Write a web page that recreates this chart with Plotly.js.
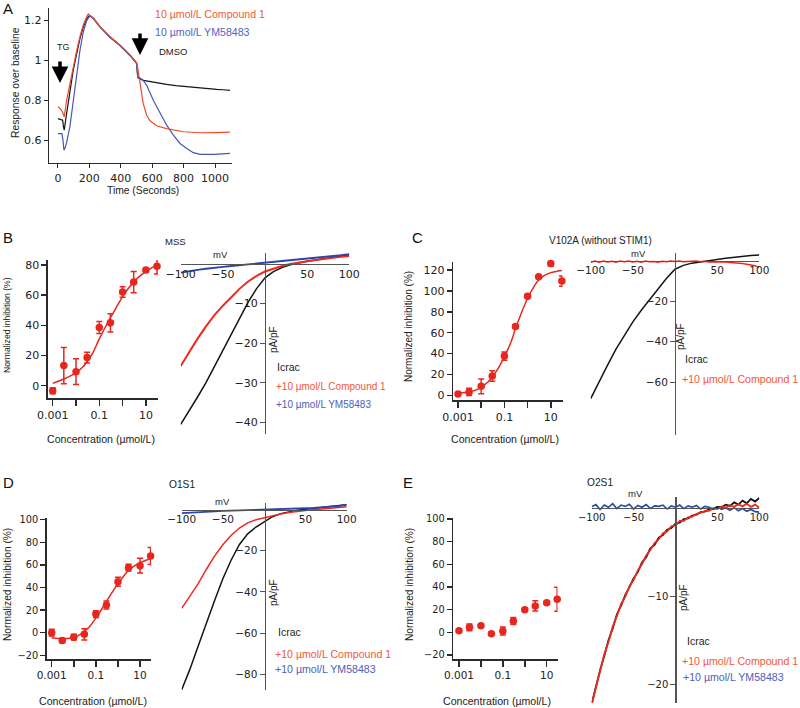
<!DOCTYPE html>
<html><head><meta charset="utf-8">
<script src="https://cdn.plot.ly/plotly-3.0.1.min.js"></script>
<style>html,body{margin:0;padding:0;background:#fff}#chart{width:800px;height:708px}</style>
</head><body><div id="chart"></div>
<script>
// ---------- Panel A data ----------
const timeCompound1 = [0,15,30,40,55,76,97,119,140,161,183,193,225,268,331,395,459,501,505,522,543,565,586,628,692,798,904,1000,1095];
const respCompound1 = [0.767,0.758,0.74,0.717,0.80,0.883,0.975,1.05,1.12,1.178,1.22,1.234,1.212,1.17,1.12,1.078,1.028,0.99,0.975,0.883,0.783,0.725,0.697,0.672,0.658,0.642,0.637,0.638,0.64];
const timeYM = [0,25,32,38,45,55,76,97,119,140,161,183,204,225,268,331,395,459,501,508,543,565,607,650,692,735,777,820,862,904,989,1095];
const respYM = [0.633,0.633,0.60,0.55,0.56,0.587,0.667,0.80,0.933,1.05,1.142,1.20,1.225,1.215,1.17,1.115,1.075,1.025,0.985,0.913,0.90,0.875,0.80,0.733,0.675,0.625,0.583,0.558,0.537,0.528,0.528,0.533];
const timeDMSO = [0,30,35,40,55,76,97,119,140,161,183,200,225,268,331,395,459,501,508,543,575,607,650,692,750,798,850,904,950,1010,1050,1095];
const respDMSO = [0.708,0.70,0.667,0.65,0.733,0.85,0.95,1.033,1.11,1.167,1.21,1.226,1.21,1.168,1.118,1.075,1.025,0.985,0.918,0.90,0.895,0.892,0.886,0.88,0.874,0.87,0.866,0.862,0.857,0.855,0.853,0.85];
const timeTicks = [0,200,400,600,800,1000];
const respTicks = [0.6,0.8,1,1.2];
const respTickText = ['0.6','0.8','1','1.2'];

// ---------- Dose-response data ----------
const conc = [0.001,0.003,0.01,0.03,0.1,0.3,1,3,10,30];
const fitConc = [0.001,0.002,0.003,0.005,0.01,0.02,0.03,0.05,0.1,0.2,0.3,0.5,1,2,3,5,10,20,30];
const inhibB = [-3.3,13.3,9.3,18.6,38.5,41.6,62,68.6,76.5,79];
const errB   = [2,12,8.5,3.5,4,6,3.5,7,1,5];
const fitB   = [1.5,3.3,4.5,6,8.5,12.5,16,21,31,40,45,51,59,65.5,68.5,72,75.5,78.5,80];
const inhibC = [1.3,3.2,8.6,18.5,37.6,66,95,113.6,126.3,109.4];
const errC   = [1.5,3.5,7,5,4,1.5,1.5,1,2.5,5];
const fitC   = [2,2.7,3.3,4.5,7.8,13,17.5,24.5,37,52,64,77,93,105,110.5,114.5,117.5,119,119.5];
const inhibD = [0,-7,-4,-1.5,16.5,24.5,45,57.5,59.3,67.8];
const errD   = [3,2,2.5,5,3,3.5,4,3,6.5,7.5];
const fitD   = [-4.5,-5.2,-5.4,-5.2,-4.2,-1.5,1,5,13,22,27.5,34.5,43.5,51,55,58.5,62,64.3,65.3];
const inhibE = [1.5,4.4,5.9,-1.2,1.2,10,20,23.3,26,29.2];
const errE   = [1,3,1,1,3.5,3,1,4.5,1,10.5];
const decadeTicks = [0.001,0.01,0.1,1,10];
const decadeText = ['0.001','','0.1','','10'];

// ---------- I-V data ----------
const mv21 = [-100,-90,-80,-70,-60,-50,-40,-30,-20,-10,0,10,20,30,40,50,60,70,80,90,100];
const mv41 = [-100,-95,-90,-85,-80,-75,-70,-65,-60,-55,-50,-45,-40,-35,-30,-25,-20,-15,-10,-5,0,5,10,15,20,25,30,35,40,45,50,55,60,65,70,75,80,85,90,95,100];
const ivB_ctrl = [-40.5,-37.2,-33.6,-30,-25.9,-21.7,-17.6,-13.6,-9.7,-6.3,-3.6,-2.0,-1.0,-0.3,0.2,0.6,0.9,1.2,1.5,1.8,2.2];
const ivB_cpd  = [-25.8,-22.3,-18.9,-15.8,-13,-10.6,-8.4,-6.3,-4.5,-3.1,-2.0,-1.2,-0.6,-0.1,0.3,0.6,0.9,1.2,1.5,1.7,1.9];
const ivB_ym   = [-2.3,-1.9,-1.6,-1.3,-1.0,-0.8,-0.6,-0.4,-0.2,0,0.2,0.4,0.6,0.8,1.0,1.2,1.4,1.7,1.9,2.1,2.4];
const ivC_ctrl = [-68,-59.5,-51.5,-43.7,-36.7,-30.2,-24.5,-19.2,-14,-8.8,-4.3,-2.4,-1.3,-0.6,0,0.5,1.1,1.6,2.0,2.5,2.7];
const ivC_cpd  = [-0.9,-0.3,-0.8,-0.2,-0.7,-0.4,-0.9,-0.3,-0.6,-0.2,-0.7,-0.4,-0.8,-0.3,-0.6,-0.5,-0.9,-0.4,-0.6,-0.3,-0.5,-0.2,-0.6,-0.4,-0.5,-0.3,-0.6,-0.4,-0.7,-0.5,-0.6,-0.8,-0.7,-1.0,-1.1,-1.3,-1.5,-1.8,-2.1,-2.6,-3.5];
const ivD_ctrl = [-87.5,-77.5,-66.3,-55,-44,-33.5,-24.5,-17,-11.8,-8.5,-6,-3.5,-2,-1,-0.3,0.1,0.5,0.9,1.3,1.8,2.3];
const ivD_cpd  = [-48,-42,-36,-29,-22.5,-17,-12.5,-9,-6.5,-5,-4,-3,-2.2,-1.5,-0.9,-0.4,0,0.3,0.6,0.9,1.3];
const ivD_ym   = [-1.8,-1.5,-1.2,-1.0,-0.9,-0.7,-0.6,-0.5,-0.4,-0.3,-0.2,-0.05,0.1,0.25,0.4,0.6,0.8,1.0,1.3,1.7,2.4];
const ivE_ctrl = [-22.2,-20.2,-18.4,-16.8,-15.0,-13.7,-12.1,-11.1,-9.9,-9.0,-8.0,-7.3,-6.2,-5.6,-4.6,-4.2,-3.4,-3.1,-2.5,-2.3,-1.8,-1.7,-1.3,-1.2,-0.9,-0.8,-0.5,-0.45,-0.2,-0.15,0.1,0.05,0.35,0.2,0.6,0.35,0.8,0.5,1.0,0.7,1.1];
const ivE_cpd  = [-22.3,-20.3,-18.6,-16.6,-15.2,-13.5,-12.3,-10.9,-10.1,-8.9,-8.2,-7.1,-6.4,-5.4,-4.8,-4.0,-3.6,-2.9,-2.7,-2.1,-2.0,-1.5,-1.5,-1.1,-1.0,-0.7,-0.6,-0.35,-0.35,-0.05,-0.15,0.15,0.0,0.3,0.1,0.4,0.15,0.45,0.1,0.35,0.0];
const ivE_ym   = [0.1,0.35,-0.2,0.3,0.05,0.45,-0.1,0.3,0.15,0.4,-0.15,0.25,0.05,0.35,-0.1,0.2,0.15,0.3,-0.15,0.2,0.05,0.3,-0.1,0.2,0.05,0.25,-0.15,0.15,0.05,-0.15,0.1,-0.2,0.0,-0.3,0.0,-0.35,-0.1,-0.4,-0.2,-0.45,-0.5];
const ivTicks = [-100,-50,50,100];

// ---------- helpers ----------
const W = 800, H = 708;
const px = x => x / W, py = y => 1 - y / H;
const FT = 'DejaVu Sans, Verdana, sans-serif';
const FL = 'Liberation Sans, Arial, sans-serif';
const RED = '#e8261d', IVRED = '#f0291e', IVBLUE = '#2b46aa', BLK = '#151515';
const LRED = '#f2573a', LBLUE = '#4f5eb8';
const AX = '#2a2a2a';

const traces = [];
const layout = {
  width: W, height: H, margin: {l:0, r:0, t:0, b:0},
  paper_bgcolor: '#fff', plot_bgcolor: 'rgba(0,0,0,0)',
  showlegend: false, annotations: []
};

function ann(text, x, y, o) {
  layout.annotations.push(Object.assign({
    text: text, x: px(x), y: py(y), xref: 'paper', yref: 'paper', showarrow: false,
    xanchor: 'center', yanchor: 'middle', font: {family: FL, size: 10, color: '#222'}
  }, o || {}));
}
const F = (s, c) => ({family: FL, size: s, color: c || '#222'});

// ---------- Panel A ----------
layout.xaxis = {domain: [px(49), px(232)], range: [-57, 1108], anchor: 'y', showline: true, linecolor: AX, linewidth: 1.3,
  ticks: 'outside', ticklen: 4, tickcolor: AX, tickvals: timeTicks, showgrid: false, zeroline: false,
  tickfont: {family: FT, size: 11, color: '#222'}};
layout.yaxis = {domain: [py(163), py(8)], range: [0.485, 1.2635], anchor: 'x', showline: true, linecolor: AX, linewidth: 1.3,
  ticks: 'outside', ticklen: 4, tickcolor: AX, tickvals: respTicks, ticktext: respTickText, showgrid: false, zeroline: false,
  tickfont: {family: FT, size: 11, color: '#222'}};
traces.push({x: timeDMSO, y: respDMSO, xaxis: 'x', yaxis: 'y', mode: 'lines', line: {color: BLK, width: 1.2}});
traces.push({x: timeYM, y: respYM, xaxis: 'x', yaxis: 'y', mode: 'lines', line: {color: '#4656b8', width: 1.2}});
traces.push({x: timeCompound1, y: respCompound1, xaxis: 'x', yaxis: 'y', mode: 'lines', line: {color: '#f04a2e', width: 1.2}});
ann('Response over baseline', 15, 83, {textangle: -90, font: F(10.3)});
ann('Time (Seconds)', 143, 190, {font: F(10.3)});
ann('10 µmol/L Compound 1', 153, 14, {xanchor: 'left', font: F(10.6, '#f05a3c')});
ann('10 µmol/L YM58483', 153, 32, {xanchor: 'left', font: F(10.6, '#5563c0')});
ann('DMSO', 157, 52, {xanchor: 'left', font: F(9.5)});
ann('TG', 55, 47, {xanchor: 'left', font: F(9)});
[[60, 83], [140, 55]].forEach(function (p) {
  layout.annotations.push({text: '', x: px(p[0]), y: py(p[1]), xref: 'paper', yref: 'paper', showarrow: true,
    ax: 0, ay: -23, arrowhead: 2, arrowwidth: 3.5, arrowsize: 0.95, arrowcolor: '#000'});
});

// ---------- dose-response axes ----------
function doseAxes(n, xl, xr, xrange, ytop, ybot, yrange, yticks, xfs, yfs) {
  layout['xaxis' + n] = {domain: [px(xl), px(xr)], range: xrange, type: 'log', anchor: 'y' + n,
    showline: true, linecolor: AX, linewidth: 1.6, ticks: 'outside', ticklen: 6, tickwidth: 1.5, tickcolor: AX,
    tickvals: decadeTicks, ticktext: decadeText, showgrid: false, zeroline: false,
    tickfont: {family: FT, size: xfs, color: '#222'}};
  layout['yaxis' + n] = {domain: [py(ybot), py(ytop)], range: yrange, anchor: 'x' + n,
    showline: true, linecolor: AX, linewidth: 1.6, ticks: 'outside', ticklen: 5, tickwidth: 1.5, tickcolor: AX,
    tickvals: yticks, showgrid: false, zeroline: false,
    tickfont: {family: FT, size: yfs, color: '#222'}};
}
function doseTraces(n, vals, errs, fit) {
  if (fit) traces.push({x: fitConc, y: fit, xaxis: 'x' + n, yaxis: 'y' + n, mode: 'lines', line: {color: RED, width: 1.5, shape: 'spline'}});
  traces.push({x: conc, y: vals, xaxis: 'x' + n, yaxis: 'y' + n, mode: 'markers', cliponaxis: false,
    marker: {color: RED, size: 7.5},
    error_y: {type: 'data', array: errs, visible: true, color: RED, thickness: 1.5, width: 3}});
}
// B
doseAxes(2, 48, 158, [-3.2017, 1.52], 260, 398, [-8.15, 83.2], [0,20,40,60,80], 11, 11);
doseTraces(2, inhibB, errB, fitB);
ann('Normalized inhibition (%)', 7, 325, {textangle: -90, font: F(8.6)});
ann('Concentration (µmol/L)', 101, 439, {font: F(10.6)});
// C
doseAxes(4, 453.3, 562.5, [-3.203, 1.505], 261.7, 400, [-4.5, 128], [0,20,40,60,80,100,120], 11, 11);
doseTraces(4, inhibC, errC, fitC);
ann('Normalized inhibition (%)', 408, 327, {textangle: -90, font: F(10)});
ann('Concentration (µmol/L)', 505, 439, {font: F(10.6)});
// D
doseAxes(6, 46.7, 151, [-3.226, 1.495], 518.3, 659, [-23.3, 101.2], [-20,0,20,40,60,80,100], 10.5, 9.8);
doseTraces(6, inhibD, errD, fitD);
ann('Normalized inhibition (%)', 7, 585, {textangle: -90, font: F(10.2)});
ann('Concentration (µmol/L)', 93, 701, {font: F(10.6)});
// E
doseAxes(8, 453.3, 557.5, [-3.259, 1.4909], 518, 659, [-23.5, 100.8], [-20,0,20,40,60,80,100], 10.5, 9.8);
doseTraces(8, inhibE, errE, null);
ann('Normalized inhibition (%)', 409, 585, {textangle: -90, font: F(10.2)});
ann('Concentration (µmol/L)', 497, 701, {font: F(10.6)});

// ---------- I-V axes ----------
function ivAxes(n, xl, xr, zeroX, zeroY, ytop, ybot, pxPerUnit, yticks, fs) {
  layout['xaxis' + n] = {domain: [px(xl), px(xr)], range: [-100, 100], anchor: 'free', position: py(zeroY),
    showline: true, linecolor: '#555', linewidth: 1.3, ticks: '', tickvals: ivTicks, showgrid: false, zeroline: false,
    tickfont: {family: FT, size: fs, color: '#222'}};
  layout['yaxis' + n] = {domain: [py(ybot), py(ytop)], range: [-(ybot - zeroY) / pxPerUnit, (zeroY - ytop) / pxPerUnit],
    anchor: 'free', position: px(zeroX), showline: true, linecolor: '#555', linewidth: 1.3,
    ticks: 'outside', ticklen: 5, tickcolor: '#555', tickvals: yticks, showgrid: false, zeroline: false,
    tickfont: {family: FT, size: fs, color: '#222'}};
}
function ivLine(n, xs, ys, color, w) {
  traces.push({x: xs, y: ys, xaxis: 'x' + n, yaxis: 'y' + n, mode: 'lines', line: {color: color, width: w || 1.5}});
}
// B I-V
ivAxes(3, 180.7, 349.3, 265, 263.6, 253, 434, 3.97, [-10,-20,-30,-40], 11);
ivLine(3, mv21, ivB_ctrl, BLK);
ivLine(3, mv21, ivB_cpd, IVRED, 2);
ivLine(3, mv21, ivB_ym, IVBLUE, 1.8);
ann('MSS', 163, 241, {xanchor: 'left', font: F(9.5)});
ann('mV', 220, 255, {font: F(9.5)});
ann('pA/pF', 273, 340, {textangle: -90, font: F(10)});
ann('Icrac', 275, 367, {xanchor: 'left', font: F(10.5)});
ann('+10 µmol/L Compound 1', 274, 386, {xanchor: 'left', font: F(10, LRED)});
ann('+10 µmol/L YM58483', 274, 404.5, {xanchor: 'left', font: F(10, LBLUE)});
// C I-V
ivAxes(5, 590.7, 759.3, 675, 260.5, 253, 435, 2.03, [-20,-40,-60], 10.5);
ivLine(5, mv21, ivC_ctrl, BLK);
ivLine(5, mv41, ivC_cpd, IVRED, 1.5);
ann('V102A (without STIM1)', 547, 240, {xanchor: 'left', font: F(10)});
ann('mV', 638, 253, {font: F(9.5)});
ann('pA/pF', 680, 337, {textangle: -90, font: F(10)});
ann('Icrac', 683, 359, {xanchor: 'left', font: F(10.5)});
ann('+10 µmol/L Compound 1', 680, 379, {xanchor: 'left', font: F(10.6, LRED)});
// D I-V
ivAxes(7, 181.7, 346.7, 264.5, 509.5, 503, 690, 2.06, [-20,-40,-60,-80], 10.5);
ivLine(7, mv21, ivD_ctrl, BLK);
ivLine(7, mv21, ivD_cpd, IVRED);
ivLine(7, mv21, ivD_ym, IVBLUE, 1.8);
ann('O1S1', 167, 484, {xanchor: 'left', font: F(10.2)});
ann('mV', 222, 501, {font: F(9.5)});
ann('pA/pF', 273, 593, {textangle: -90, font: F(10)});
ann('Icrac', 276, 632, {xanchor: 'left', font: F(10.5)});
ann('+10 µmol/L Compound 1', 273, 654, {xanchor: 'left', font: F(10.6, LRED)});
ann('+10 µmol/L YM58483', 273, 669, {xanchor: 'left', font: F(10.6, LBLUE)});
// E I-V
ivAxes(9, 591.7, 759.3, 675.3, 507.7, 496.7, 703, 8.83, [-10,-20], 10);
ivLine(9, mv41, ivE_ym, IVBLUE, 1.6);
ivLine(9, mv41, ivE_ctrl, BLK, 1.8);
ivLine(9, mv41, ivE_cpd, IVRED, 1.8);
ann('O2S1', 585, 483, {xanchor: 'left', font: F(10.2)});
ann('mV', 635, 493, {font: F(9.5)});
ann('pA/pF', 683, 598, {textangle: -90, font: F(10)});
ann('Icrac', 685, 641, {xanchor: 'left', font: F(10.5)});
ann('+10 µmol/L Compound 1', 680, 661, {xanchor: 'left', font: F(10.6, LRED)});
ann('+10 µmol/L YM58483', 681, 677, {xanchor: 'left', font: F(10.6, LBLUE)});

// ---------- panel letters ----------
[['A', 8, 8], ['B', 7.5, 237], ['C', 417.5, 237], ['D', 8, 482], ['E', 407.5, 483]].forEach(function (l) {
  ann(l[0], l[1], l[2], {font: F(15, '#111')});
});

Plotly.newPlot('chart', traces, layout, {staticPlot: true, displayModeBar: false});
</script></body></html>
